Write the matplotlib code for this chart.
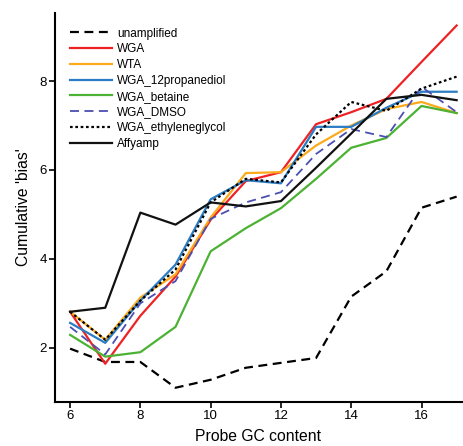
import matplotlib
matplotlib.use('Agg')
import matplotlib.pyplot as plt

plt.rcParams['font.family'] = ['Liberation Sans', 'DejaVu Sans']

gc = [6, 7, 8, 9, 10, 11, 12, 13, 14, 15, 16, 17]

unamplified = [1.98, 1.68, 1.68, 1.10, 1.28, 1.55, 1.66, 1.77, 3.15, 3.72, 5.15, 5.40]
wga = [2.81, 1.64, 2.72, 3.60, 4.88, 5.75, 5.95, 7.03, 7.30, 7.60, 8.43, 9.25]
wta = [2.81, 2.18, 3.13, 3.65, 4.93, 5.93, 5.95, 6.55, 7.00, 7.37, 7.53, 7.28]
propanediol = [2.56, 2.11, 3.06, 3.87, 5.34, 5.77, 5.70, 6.97, 6.97, 7.40, 7.76, 7.76]
betaine = [2.29, 1.80, 1.90, 2.47, 4.17, 4.69, 5.14, 5.80, 6.50, 6.72, 7.44, 7.28]
dmso = [2.47, 1.85, 3.00, 3.50, 4.90, 5.27, 5.50, 6.36, 6.92, 6.74, 7.87, 7.30]
ethyleneglycol = [2.81, 2.18, 3.06, 3.76, 5.27, 5.80, 5.72, 6.80, 7.53, 7.33, 7.83, 8.10]
affyamp = [2.81, 2.90, 5.04, 4.77, 5.27, 5.18, 5.30, 6.05, 6.82, 7.60, 7.69, 7.57]

fig = plt.figure(figsize=(4.64, 4.46), dpi=100)
ax = fig.add_axes([0.1185, 0.0987, 0.877, 0.872])

lw = 1.6
ax.plot(gc, unamplified, color='black', ls=(0, (4, 2.5)), lw=lw, label='unamplified')
ax.plot(gc, wga, color='#ee2224', lw=lw, label='WGA')
ax.plot(gc, wta, color='#fbaa1c', lw=lw, label='WTA')
ax.plot(gc, propanediol, color='#2a7cc4', lw=lw, label='WGA_12propanediol')
ax.plot(gc, betaine, color='#4bb233', lw=lw, label='WGA_betaine')
ax.plot(gc, dmso, color='#4a4fb0', ls=(0, (5, 3)), lw=1.3, label='WGA_DMSO')
ax.plot(gc, ethyleneglycol, color='black', ls=(0, (1.2, 1.2)), lw=lw, label='WGA_ethyleneglycol')
ax.plot(gc, affyamp, color='#111111', lw=lw, label='Affyamp')

ax.set_xlim(5.57, 17.15)
ax.set_ylim(0.78, 9.53)
ax.set_xticks([6, 8, 10, 12, 14, 16])
ax.set_yticks([2, 4, 6, 8])
ax.spines['top'].set_visible(False)
ax.spines['right'].set_visible(False)
ax.spines['left'].set_linewidth(1.5)
ax.spines['bottom'].set_linewidth(1.5)
ax.tick_params(length=4, width=1.2, labelsize=9.5, pad=2)

ax.set_xlabel('Probe GC content', fontsize=11.3, labelpad=5)
ax.set_ylabel("Cumulative 'bias'", fontsize=11.3, labelpad=6)

ax.legend(loc='upper left', bbox_to_anchor=(0.025, 0.975), frameon=False,
          fontsize=8.5, handlelength=3.6, handletextpad=0.4, labelspacing=0.32,
          borderaxespad=0)

fig.savefig('out.png', dpi=100)
